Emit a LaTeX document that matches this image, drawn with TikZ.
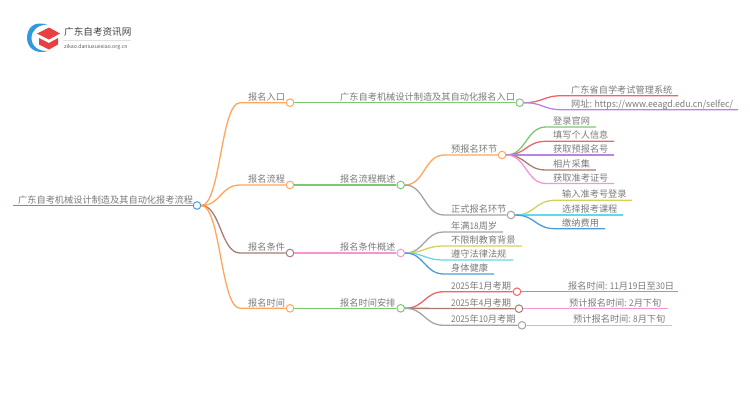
\documentclass[tikz,border=0pt]{standalone}
\usepackage{fontspec}
\usetikzlibrary{calc}
\setmainfont{Noto Sans CJK SC}
\newfontfamily\numf[FakeStretch=0.9]{Noto Sans CJK SC}
\newfontfamily\urlf[FakeStretch=0.95]{Noto Sans CJK SC}
\definecolor{cblue}{HTML}{4F9BDA}
\definecolor{corange}{HTML}{FFA65A}
\definecolor{cgreen}{HTML}{7CC870}
\definecolor{cred}{HTML}{EE6468}
\definecolor{cpurple}{HTML}{B884E6}
\definecolor{cbrown}{HTML}{A87C70}
\definecolor{cpink}{HTML}{F296D8}
\definecolor{cgray}{HTML}{A4A4A4}
\definecolor{cyellow}{HTML}{D2D25A}
\definecolor{ccyan}{HTML}{64D8E8}
\definecolor{ctext}{HTML}{7A7A7A}
\definecolor{logoblue}{HTML}{2F9AE0}
\definecolor{logored}{HTML}{E84040}
\tikzset{
  dot/.style={circle,draw,fill=white,line width=1pt,minimum size=7.6pt,inner sep=0pt},
  lbl/.style={anchor=base west,inner sep=0pt,text=ctext,font=\fontsize{9.2}{10}\selectfont},
  wire/.style={line width=1.3pt,to path={let \p1=(\tikztostart),\p2=(\tikztotarget) in
    .. controls ({0.5*(\x1+\x2)},\y1) and ({0.5*(\x1+\x2)},\y2) .. (\tikztotarget)}},
}
\begin{document}
\begin{tikzpicture}[x=1pt,y=-1pt]
        \useasboundingbox (0,0) rectangle (750,410);
        % logo
        \fill [logoblue] (47,24.5) .. controls (34,20.5) and (27,28) .. (27,38) .. controls (27,47) and (35,55) .. (48,51) .. controls (38,51.5) and (31.5,46) .. (31.5,38) .. controls (31.5,30) and (38,25) .. (47,24.5);
        \fill [logored] (37,33.5) -- (49,27.5) -- (60,33.5) -- (49,39.5) -- cycle;
        \fill [logored] (39,38) -- (49,43) -- (58,38) -- (58,44.5) -- (49,49.5) -- (39,44.5) -- cycle;
        \node [anchor=base west,inner sep=0pt,text=black!75,font=\fontsize{9.6}{10}\selectfont] (logotitle) at (64,35) {广东自考资讯网};
        \coordinate (logoa) at (63,40.5);
        \coordinate (logob) at (131,40.5);
        \draw [black!12,line width=0.5pt] (logoa) -- (logob);
        \node [anchor=base west,inner sep=0pt,text=black!65,font=\fontsize{5.2}{6}\selectfont] (logourl) at (64,48) {zikao.daniuxuexiao.org.cn};
        % dots
        \node [dot,draw=cblue] (root) at (197,205.5) {};
        \node [dot,draw=corange] (entry) at (290,102.7) {};
        \node [dot,draw=corange] (flow) at (290,185) {};
        \node [dot,draw=cbrown] (cond) at (290,253) {};
        \node [dot,draw=corange] (time) at (290,308.3) {};
        \node [dot,draw=cgreen] (entrysub) at (519.7,102.7) {};
        \node [dot,draw=cgreen] (flowsub) at (400.7,185) {};
        \node [dot,draw=cpink] (condsub) at (400.7,253) {};
        \node [dot,draw=cgreen] (timesub) at (400.7,308.3) {};
        \node [dot,draw=corange] (pre) at (502,155) {};
        \node [dot,draw=cgray] (formal) at (511,215) {};
        \node [dot,draw=cred] (jan) at (517,291.7) {};
        \node [dot,draw=cbrown] (apr) at (519,308.7) {};
        \node [dot,draw=cgray] (oct) at (522,325.3) {};
        % free line ends
        \coordinate (start) at (13,205.5);
        \coordinate (e1) at (678,95.7);
        \coordinate (e2) at (738,109.7);
        \coordinate (p1) at (596,127);
        \coordinate (p2) at (614,141.3);
        \coordinate (p3) at (614,155);
        \coordinate (p4) at (596,170);
        \coordinate (p5) at (614,183.5);
        \coordinate (f1) at (632,200.3);
        \coordinate (f2) at (623,215);
        \coordinate (f3) at (605,228.7);
        \coordinate (c1) at (503,232);
        \coordinate (c2) at (522,246);
        \coordinate (c3) at (513,260);
        \coordinate (c4) at (494,274);
        \coordinate (t1) at (678,291.7);
        \coordinate (t2) at (668,308.7);
        \coordinate (t3) at (672,325.3);
        % connectors
        \draw [wire,cblue] (start) -- (root);
        \draw [wire,corange] (root.east) to (240,102.7) -- (entry);
        \draw [wire,corange] (root.east) to (240,185) -- (flow);
        \draw [wire,cbrown] (root.east) to (240,253) -- (cond);
        \draw [wire,corange] (root.east) to (240,308.3) -- (time);
        \draw [wire,cgreen] (entry) -- (entrysub);
        \draw [wire,cgreen] (flow) -- (flowsub);
        \draw [wire,cpink] (cond) -- (condsub);
        \draw [wire,cgreen] (time) -- (timesub);
        \draw [wire,cred] (entrysub.east) to (562,95.7) -- (e1);
        \draw [wire,cpurple] (entrysub.east) to (562,109.7) -- (e2);
        \draw [wire,corange] (flowsub.east) to (444,155) -- (pre);
        \draw [wire,cgray] (flowsub.east) to (444,215) -- (formal);
        \draw [wire,cgreen] (pre.east) to (546,127) -- (p1);
        \draw [wire,cred] (pre.east) to (546,141.3) -- (p2);
        \draw [wire,cpurple] (pre) -- (p3);
        \draw [wire,cbrown] (pre.east) to (546,170) -- (p4);
        \draw [wire,cpink] (pre.east) to (546,183.5) -- (p5);
        \draw [wire,cyellow] (formal.east) to (555,200.3) -- (f1);
        \draw [wire,ccyan] (formal) -- (f2);
        \draw [wire,cblue] (formal.east) to (555,228.7) -- (f3);
        \draw [wire,cgray] (condsub.east) to (444,232) -- (c1);
        \draw [wire,cyellow] (condsub.east) to (444,246) -- (c2);
        \draw [wire,ccyan] (condsub.east) to (444,260) -- (c3);
        \draw [wire,cblue] (condsub.east) to (444,274) -- (c4);
        \draw [wire,cred] (timesub.east) to (444,291.7) -- (jan);
        \draw [wire,cbrown] (timesub) -- (apr);
        \draw [wire,cgray] (timesub.east) to (444,325.3) -- (oct);
        \draw [wire,cpurple] (jan) -- (t1);
        \draw [wire,cpink] (apr) -- (t2);
        \draw [wire,cyellow] (oct) -- (t3);
        % labels
        \node [lbl] (roottxt) at (18,203) {广东自考机械设计制造及其自动化报考流程};
        \node [lbl] (entrytxt) at (248,100.5) {报名入口};
        \node [lbl] (flowtxt) at (248,182.5) {报名流程};
        \node [lbl] (condtxt) at (248,250.5) {报名条件};
        \node [lbl] (timetxt) at (248,306) {报名时间};
        \node [lbl] (entrysubtxt) at (340,100.5) {广东自考机械设计制造及其自动化报名入口};
        \node [lbl] (flowsubtxt) at (340,182.5) {报名流程概述};
        \node [lbl] (condsubtxt) at (340,250.5) {报名条件概述};
        \node [lbl] (timesubtxt) at (340,306) {报名时间安排};
        \node [lbl] (pretxt) at (451,152.5) {预报名环节};
        \node [lbl] (formaltxt) at (451,212.5) {正式报名环节};
        \node [lbl] (e1txt) at (571,93.2) {广东省自学考试管理系统};
        \node [lbl] (e2txt) at (571,107.2) {网址{\urlf: https://www.eeagd.edu.cn/selfec/}};
        \node [lbl] (p1txt) at (553,124.5) {登录官网};
        \node [lbl] (p2txt) at (553,138.8) {填写个人信息};
        \node [lbl] (p3txt) at (553,152.5) {获取预报名号};
        \node [lbl] (p4txt) at (553,167.5) {相片采集};
        \node [lbl] (p5txt) at (553,181) {获取准考证号};
        \node [lbl] (f1txt) at (562,197.8) {输入准考号登录};
        \node [lbl] (f2txt) at (562,212.5) {选择报考课程};
        \node [lbl] (f3txt) at (562,226.2) {缴纳费用};
        \node [lbl] (c1txt) at (451,229.5) {年满{\numf 18}周岁};
        \node [lbl] (c2txt) at (451,243.5) {不限制教育背景};
        \node [lbl] (c3txt) at (451,257.5) {遵守法律法规};
        \node [lbl] (c4txt) at (451,271.5) {身体健康};
        \node [lbl] (jantxt) at (451,289.2) {{\numf 2025}年{\numf 1}月考期};
        \node [lbl] (aprtxt) at (451,306.2) {{\numf 2025}年{\numf 4}月考期};
        \node [lbl] (octtxt) at (451,322.8) {{\numf 2025}年{\numf 10}月考期};
        \node [lbl] (t1txt) at (568,289.2) {报名时间{\numf: 11}月{\numf 19}日至{\numf 30}日};
        \node [lbl] (t2txt) at (569,306.2) {预计报名时间{\numf: 2}月下旬};
        \node [lbl] (t3txt) at (573,322.8) {预计报名时间{\numf: 8}月下旬};
\end{tikzpicture}
\end{document}
